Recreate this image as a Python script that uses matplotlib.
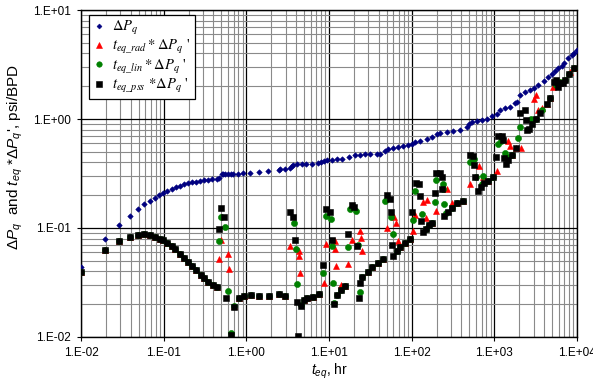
import numpy as np
import matplotlib
matplotlib.use("Agg")
import matplotlib.pyplot as plt
from matplotlib.ticker import LogLocator, FuncFormatter, NullFormatter
from matplotlib.font_manager import FontProperties

plt.rcParams["font.family"] = ["Liberation Sans", "DejaVu Sans"]
plt.rcParams["mathtext.fontset"] = "custom"
plt.rcParams["mathtext.rm"] = "Liberation Sans"
plt.rcParams["mathtext.it"] = "Liberation Sans:italic"

# ========================
# データ (t_eq [hr], psi/BPD)
# ========================
dp_t = [0.0100, 0.0195, 0.0288, 0.039, 0.049, 0.058, 0.068, 0.079, 0.088, 0.098,
        0.110, 0.126, 0.141, 0.158, 0.176, 0.197, 0.220, 0.246, 0.275, 0.308,
        0.344, 0.384, 0.442, 0.467,
        0.508, 0.522, 0.552, 0.60, 0.65, 0.69, 0.79, 0.91, 1.11, 1.42,
        1.83, 2.48, 2.55, 2.94, 3.37, 3.57, 3.67, 4.10, 4.71, 5.27,
        6.22, 7.36, 8.00, 8.69, 9.45, 10.9, 12.5, 14.4, 17.5, 20.6,
        23.7, 27.2, 31.3, 38.1, 41.4, 47.5, 51.7, 59.4, 68.3, 78.5,
        90.2, 101, 110, 126, 153, 176, 202, 220, 267, 316,
        384, 467, 494, 537, 617, 709, 815, 937, 1077, 1170,
        1346, 1547, 1778, 1880, 2044, 2349, 2698, 3016, 3373, 3987,
        4455, 4981, 5415, 5888, 6583, 6961, 7784, 8703, 9200, 10000]
dp_v = [0.044, 0.079, 0.107, 0.129, 0.149, 0.166, 0.177, 0.189, 0.201, 0.209,
        0.218, 0.228, 0.238, 0.243, 0.253, 0.259, 0.262, 0.266, 0.270, 0.273,
        0.276, 0.280, 0.284, 0.288,
        0.313, 0.313, 0.313, 0.314, 0.315, 0.315, 0.316, 0.320, 0.320, 0.327,
        0.333, 0.340, 0.348, 0.348, 0.352, 0.371, 0.379, 0.387, 0.387, 0.387,
        0.387, 0.395, 0.403, 0.412, 0.420, 0.420, 0.430, 0.430, 0.448, 0.468,
        0.468, 0.475, 0.475, 0.480, 0.480, 0.508, 0.530, 0.542, 0.553, 0.565,
        0.577, 0.590, 0.615, 0.630, 0.650, 0.684, 0.730, 0.745, 0.760, 0.776,
        0.800, 0.845, 0.900, 0.940, 0.960, 0.980, 1.00, 1.07, 1.11, 1.21,
        1.26, 1.29, 1.40, 1.43, 1.66, 1.77, 1.85, 1.92, 2.05, 2.23,
        2.43, 2.59, 2.76, 2.94, 3.06, 3.27, 3.63, 3.86, 4.03, 4.30]

rad_t = [0.0100, 0.0195, 0.0288, 0.039, 0.049, 0.058, 0.068, 0.079, 0.090, 0.098,
         0.110, 0.126, 0.137, 0.158, 0.176, 0.197, 0.220, 0.246, 0.283, 0.308,
         0.344, 0.395, 0.442,
         0.467, 0.493, 0.600, 0.617, 0.709, 0.815, 0.937, 1.14, 1.42, 1.88, 2.48, 2.94,
         3.37, 4.34, 4.34, 4.46, 4.98, 5.42, 6.40, 7.57,
         8.69, 9.19, 11.8, 11.8, 12.2, 14.0, 15.6,
         17.0, 19.0, 23.7, 24.4, 25.1, 29.6, 33.1, 39.2, 45.0,
         50.3, 61.1, 64.6, 68.3, 72.2, 83.0, 95.4,
         104, 110, 137, 149, 153, 176,
         197, 267, 307, 353, 418,
         507, 652, 729, 838, 1077,
         1463, 1547, 1636, 1828, 2101,
         3016, 3189, 3373, 3770, 4333, 4711,
         5121, 6226, 8230, 9200]
rad_v = [0.0395, 0.063, 0.076, 0.083, 0.086, 0.088, 0.086, 0.083, 0.079, 0.0776,
         0.0728, 0.0684, 0.0642, 0.0577, 0.053, 0.0488, 0.0448, 0.0412, 0.037, 0.0348,
         0.032, 0.030, 0.0288,
         0.052, 0.0776, 0.0577, 0.042, 0.0192, 0.0228, 0.0238, 0.0243, 0.0238, 0.0238, 0.0248, 0.0238,
         0.0684, 0.0615, 0.0553, 0.0387, 0.0218, 0.0228, 0.0233, 0.0248,
         0.0313, 0.0713, 0.076, 0.0642, 0.0448, 0.030, 0.0294,
         0.0468, 0.0776, 0.094, 0.081, 0.0615, 0.0395, 0.0439, 0.0478, 0.052,
         0.100, 0.126, 0.111, 0.076, 0.067, 0.0728, 0.079,
         0.094, 0.132, 0.173, 0.124, 0.181, 0.111,
         0.143, 0.228, 0.170, 0.170, 0.177,
         0.253, 0.371, 0.294, 0.270, 0.333,
         0.63, 0.565, 0.468, 0.542, 0.542,
         1.52, 1.66, 1.21, 1.26, 1.37, 1.56,
         1.97, 2.18, 2.70, 2.94]

lin_t = [0.0100, 0.0195, 0.0288, 0.039, 0.049, 0.058, 0.068, 0.079, 0.090, 0.098,
         0.110, 0.126, 0.137, 0.158, 0.176, 0.197, 0.220, 0.246, 0.283, 0.308,
         0.344, 0.395, 0.442,
         0.467, 0.493, 0.552, 0.600, 0.652, 0.709, 0.815, 0.937, 1.14, 1.42, 1.88, 2.48, 2.94,
         3.77, 3.99, 4.10, 4.58, 4.98, 5.42, 6.40, 7.57,
         8.45, 9.19, 10.6, 10.9, 11.2, 11.5, 12.5, 14.0, 15.6,
         17.0, 17.9, 21.2, 22.4, 23.7, 25.1, 29.6, 33.1, 39.2, 45.0,
         47.5, 56.2, 59.4, 66.4, 72.2, 83.0, 95.4,
         104, 110, 133, 149, 162, 176,
         191, 197, 239, 239, 246, 260, 307, 353, 418,
         507, 567, 600, 709, 729, 838, 964,
         1107, 1203, 1346, 1423, 1636, 1933,
         2044, 2774, 3189, 3770, 4711,
         5568, 6226, 7158, 8004, 9200]
lin_v = [0.0395, 0.063, 0.076, 0.083, 0.086, 0.088, 0.086, 0.083, 0.079, 0.0776,
         0.0728, 0.0684, 0.0642, 0.0577, 0.053, 0.0488, 0.0448, 0.0412, 0.037, 0.0348,
         0.032, 0.030, 0.0288,
         0.076, 0.126, 0.102, 0.0264, 0.0109, 0.0192, 0.0228, 0.0238, 0.0243, 0.0238, 0.0238, 0.0248, 0.0238,
         0.111, 0.0642, 0.0306, 0.0197, 0.0218, 0.0228, 0.0233, 0.0248,
         0.0387, 0.129, 0.121, 0.0684, 0.0313, 0.0205, 0.0243, 0.027, 0.0294,
         0.067, 0.149, 0.143, 0.0698, 0.0259, 0.0355, 0.0395, 0.0439, 0.0478, 0.052,
         0.177, 0.126, 0.088, 0.0615, 0.067, 0.0728, 0.079,
         0.118, 0.220, 0.134, 0.098, 0.107, 0.111,
         0.173, 0.276, 0.253, 0.228, 0.166, 0.137, 0.153, 0.170, 0.177,
         0.403, 0.430, 0.294, 0.253, 0.300, 0.270, 0.294,
         0.59, 0.63, 0.488, 0.448, 0.468, 0.67,
         0.845, 1.00, 1.00, 1.21, 1.56,
         2.05, 2.18, 2.28, 2.59, 2.94]

pss_t = [0.0100, 0.0195, 0.0288, 0.039, 0.049, 0.058, 0.068, 0.079, 0.090, 0.098,
         0.110, 0.126, 0.137, 0.158, 0.176, 0.197, 0.220, 0.246, 0.283, 0.308,
         0.344, 0.395, 0.442,
         0.467, 0.493, 0.537, 0.568, 0.652, 0.709, 0.815, 0.937, 1.14, 1.42, 1.88, 2.48, 2.94,
         3.37, 3.67, 3.88, 4.10, 4.22, 4.58, 4.98, 5.42, 6.40, 7.57,
         8.45, 9.19, 10.3, 10.9, 11.5, 12.5, 14.0, 15.6,
         17.0, 19.0, 20.0, 21.8, 23.1, 23.7, 25.1, 29.6, 33.1, 39.2, 45.0,
         50.3, 54.7, 56.2, 57.8, 59.4, 66.4, 72.2, 83.0, 95.4,
         101, 113, 122, 126, 130, 137, 149, 162, 176,
         191, 197, 220, 233, 233, 246, 275, 307, 353, 418,
         507, 552, 567, 583, 634, 689, 750, 838, 964,
         1047, 1107, 1238, 1273, 1309, 1384, 1463, 1636, 1828,
         2044, 2349, 2415, 2483, 2625, 2852, 3189, 3566, 4333, 4711,
         5266, 5568, 5888, 6226, 6768, 7158, 8004, 9200]
pss_v = [0.0395, 0.063, 0.076, 0.083, 0.086, 0.088, 0.086, 0.083, 0.079, 0.0776,
         0.0728, 0.0684, 0.0642, 0.0577, 0.053, 0.0488, 0.0448, 0.0412, 0.037, 0.0348,
         0.032, 0.030, 0.0288,
         0.098, 0.153, 0.126, 0.0228, 0.0104, 0.0188, 0.0228, 0.0238, 0.0243, 0.0238, 0.0238, 0.0248, 0.0238,
         0.140, 0.126, 0.0776, 0.0209, 0.0102, 0.0192, 0.0218, 0.0228, 0.0233, 0.0248,
         0.0458, 0.149, 0.140, 0.0776, 0.0201, 0.0243, 0.027, 0.0294,
         0.088, 0.163, 0.156, 0.0684, 0.0228, 0.0313, 0.0355, 0.0395, 0.0439, 0.0478, 0.052,
         0.201, 0.185, 0.140, 0.0698, 0.0553, 0.0615, 0.067, 0.0728, 0.079,
         0.140, 0.259, 0.253, 0.197, 0.116, 0.092, 0.098, 0.107, 0.111,
         0.209, 0.320, 0.320, 0.294, 0.228, 0.129, 0.140, 0.153, 0.170, 0.177,
         0.468, 0.458, 0.379, 0.294, 0.218, 0.238, 0.259, 0.270, 0.294,
         0.448, 0.70, 0.70, 0.64, 0.439, 0.387, 0.42, 0.468, 0.542,
         1.14, 1.21, 0.98, 0.79, 0.81, 0.90, 1.00, 1.14, 1.37, 1.56,
         2.18, 2.28, 1.97, 2.14, 2.14, 2.28, 2.59, 2.94]

labels = [r"$\Delta P_q$",
          r"$t_{eq\_rad}*\Delta P_q$ '",
          r"$t_{eq\_lin}*\Delta P_q$ '",
          r"$t_{eq\_pss}$ $*\Delta P_q$ '"]

# ========================
# 描画
# ========================
fig = plt.figure(figsize=(5.93, 3.85), dpi=100)
ax = fig.add_axes([0.1366, 0.1247, 0.8364, 0.8493])

ax.plot(dp_t, dp_v, ls="none", marker="D", ms=2.8, color="#000080",
        mec="#000080", mew=0.4, label=labels[0], zorder=3)
ax.plot(rad_t, rad_v, ls="none", marker="^", ms=4.6, color="#ff0000",
        mec="#ff0000", mew=0.4, label=labels[1], zorder=4)
ax.plot(lin_t, lin_v, ls="none", marker="o", ms=4.4, color="#008000",
        mec="#008000", mew=0.4, label=labels[2], zorder=5)
ax.plot(pss_t, pss_v, ls="none", marker="s", ms=4.6, color="black",
        mec="black", mew=0.4, label=labels[3], zorder=6)

ax.set_xscale("log")
ax.set_yscale("log")
ax.set_xlim(1e-2, 1e4)
ax.set_ylim(1e-2, 1e1)

fmt = FuncFormatter(lambda v, p: "1.E%+03d" % int(round(np.log10(v))))
for a in (ax.xaxis, ax.yaxis):
    a.set_major_locator(LogLocator(base=10, numticks=12))
    a.set_minor_locator(LogLocator(base=10, subs=np.arange(2, 10), numticks=12))
    a.set_major_formatter(fmt)
    a.set_minor_formatter(NullFormatter())

ax.grid(which="minor", color="#8a8a8a", lw=0.8, zorder=0)
ax.grid(which="major", color="black", lw=0.9, zorder=1)
ax.set_axisbelow(True)
ax.tick_params(which="major", direction="out", length=3, width=0.8,
               labelsize=8.5, pad=4)
ax.tick_params(which="minor", length=0)
for s in ax.spines.values():
    s.set_linewidth(1.0)
    s.set_color("black")

ax.set_xlabel(r"$t_{eq}$, hr", fontsize=10, labelpad=2)
ax.set_ylabel(r"$\Delta P_q$  and $t_{eq}$ *$\Delta P_q$', psi/BPD",
              fontsize=11)
ax.yaxis.set_label_coords(-0.112, 0.55)

leg_font = FontProperties(family="Liberation Serif", size=10.5, math_fontfamily="stix")
leg = ax.legend(loc="upper left", bbox_to_anchor=(0.016, 0.985), prop=leg_font,
                frameon=True, fancybox=False, edgecolor="black", framealpha=1,
                handlelength=0.8, handletextpad=0.5, borderpad=0.3,
                labelspacing=0.08, borderaxespad=0, markerscale=0.9)
leg.get_frame().set_linewidth(0.9)

fig.savefig("out.png", dpi=100)
